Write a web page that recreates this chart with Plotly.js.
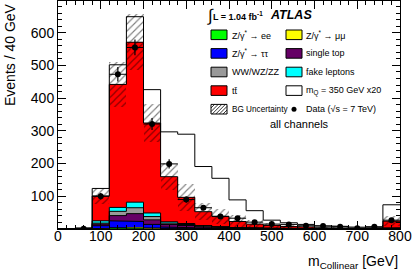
<!DOCTYPE html>
<html><head><meta charset="utf-8">
<script src="https://cdn.plot.ly/plotly-3.0.1.min.js"></script>
<style>html,body{margin:0;padding:0;background:#fff}#plot{width:412px;height:273px}</style>
</head><body><div id="plot"></div>
<script>
// ---- data ----
const binEdges = [0,40,80,120,160,200,240,280,320,360,400,440,480,520,560,600,640,680,720,760,800];
const zee       = [0,0.2,1,2,2,1,0.5,0.3,0.2,0.1,0.1,0,0,0,0,0,0,0,0,0];
const zmumu     = [0,0.2,1,2,3,2,0.5,0.5,0.3,0.2,0.1,0.1,0,0,0,0,0,0,0,0];
const ztautau   = [0,0.6,8,21,18,11,5,3,2,1,0.5,0.4,0.3,0.2,0.1,0.1,0.1,0,0,0.2];
const singletop = [0,0.3,5,16,24,14,8,7,4,3,2,1.5,1,0.8,0.6,0.4,0.3,0.3,0.2,1.5];
const diboson   = [0,0.2,3,13,18,10,4,3,2,1.5,1,0.7,0.5,0.4,0.3,0.2,0.2,0.1,0.1,0.8];
const fakes     = [0,0.3,7,12,17,11,4,3,2,1.5,1,0.7,0.5,0.4,0.3,0.2,0.2,0.1,0.1,1];
const ttbar     = [0,0.5,76,376,489,275,138,80,42.5,31.7,18.3,11.6,8.7,6.2,4.7,3.1,2.2,2,1.6,20.5];
const signalX20 = [0,1,23,60,78,102,137,193,138,116,66,41,16,11,8,6,5,3.5,3,50];
const bgUnc     = [0,1,24,70,86,58,41,42,27,23,20,13,8,6,4,3,2,2,2,16];
const dataVals  = [null,1,100,473,555,321,199,90,65,38,33,21,15,14,10,9,7,2,7,27];
const dataErr   = [0,1,10,22,24,18,14,9.5,8,6.2,5.7,4.6,3.9,3.7,3.2,3,2.6,1.4,2.6,5.2];
const xTickVals = [0,100,200,300,400,500,600,700,800];
const yTickVals = [100,200,300,400,500,600];

// ---- derived ----
const nb = binEdges.length-1;
const centers = [], widths = [];
for (let i=0;i<nb;i++){ centers.push((binEdges[i]+binEdges[i+1])/2); widths.push(binEdges[i+1]-binEdges[i]); }
const comps = [
  {v:zee, c:'#00ff00'},
  {v:zmumu, c:'#ffff00'},
  {v:ztautau, c:'#0000ff'},
  {v:singletop, c:'#660066'},
  {v:diboson, c:'#999999'},
  {v:fakes, c:'#00ffff'},
  {v:ttbar, c:'#ff0000'},
  {v:signalX20, c:'#ffffff'}
];
const traces = [];
const levels = [];
let cum = new Array(nb).fill(0);
comps.forEach(cp=>{
  const base = cum.slice();
  cum = cum.map((b,i)=>b+cp.v[i]);
  levels.push(cum.slice());
  traces.push({type:'bar', x:centers, y:cp.v, base:base, width:widths,
    marker:{color:cp.c, line:{width:0}}, hoverinfo:'skip', showlegend:false});
});
const bgTot = levels[6];
traces.push({type:'bar', x:centers, y:bgUnc.map(s=>2*s), base:bgTot.map((t,i)=>t-bgUnc[i]), width:widths,
  marker:{color:'rgba(0,0,0,0)', line:{width:0},
    pattern:{shape:'/', size:5, solidity:0.22, fgcolor:'#000', bgcolor:'rgba(0,0,0,0)', fillmode:'overlay'}},
  hoverinfo:'skip', showlegend:false});
levels.forEach(lv=>{
  const xs=[], ys=[];
  for (let i=0;i<nb;i++){ xs.push(binEdges[i], binEdges[i+1]); ys.push(lv[i], lv[i]); }
  traces.push({type:'scatter', mode:'lines', x:xs, y:ys, line:{color:'#000', width:1}, hoverinfo:'skip', showlegend:false});
});
traces.push({type:'scatter', mode:'markers', x:centers, y:dataVals,
  marker:{color:'#000', size:6},
  error_y:{type:'data', array:dataErr, width:0, thickness:1.2, color:'#000'},
  error_x:{type:'data', array:widths.map(w=>w/2), width:0, thickness:1, color:'#000'},
  showlegend:false, hoverinfo:'skip'});

// ---- layout helpers (pixel -> paper) ----
const W=412,H=273,ML=58,MR=12,MT=1,MB=44;
const PW=W-ML-MR, PH=H-MT-MB;
const px = x=>(x-ML)/PW, py = y=>(H-MB-y)/PH;
const FONT='Liberation Sans, Arial, Helvetica, sans-serif';
const ann=[], shp=[];
function txt(t,x,y,size,opts){ ann.push(Object.assign({text:t, xref:'paper', yref:'paper', x:px(x), y:py(y), xanchor:'left', yanchor:'middle', showarrow:false, font:{family:FONT,size:size,color:'#000'}},opts||{})); }
function box(x0,x1,y0,y1,fill){ shp.push({type:'rect', xref:'paper', yref:'paper', x0:px(x0), x1:px(x1), y0:py(y1), y1:py(y0), fillcolor:fill, line:{color:'#000', width:1}}); }

// axis titles
txt('Events / 40 GeV', 10, 55, 14, {xanchor:'center', textangle:-90});
txt('m<sub>Collinear</sub> [GeV]', 400, 262, 14, {xanchor:'right'});
// header
txt('∫', 205, 16, 17, {});
txt('<b>L = 1.04 fb<sup>-1</sup></b>', 211, 16, 9, {});
txt('<b><i>ATLAS</i></b>', 268, 15, 12.5, {});
// legend
const legendRows = [
  [['#00ff00','Z/γ<sup>*</sup> → ee'], ['#ffff00','Z/γ<sup>*</sup> → μμ']],
  [['#0000ff','Z/γ<sup>*</sup> → ττ'], ['#660066','single top']],
  [['#999999','WW/WZ/ZZ'], ['#00ffff','fake leptons']],
  [['#ff0000','tt̄'], ['#ffffff','m<sub>Q</sub> = 350 GeV x20']]
];
const rowY = i=>34.8+i*18.6, bh=4.8;
legendRows.forEach((row,i)=>{
  const yc=rowY(i);
  box(211,227,yc-bh,yc+bh,row[0][0]); txt(row[0][1],229.5,yc,9,{});
  box(286,302,yc-bh,yc+bh,row[1][0]); txt(row[1][1],304,yc,9,{});
});
// BG uncertainty hatched box
{
  const yc=rowY(4), x0=211, x1=227, y0=yc-bh, y1=yc+bh, w=x1-x0, h=y1-y0, s=3.6;
  let path='';
  for (let c=-h; c<w; c+=s){
    const u0=Math.max(0,c), u1=Math.min(w,h+c);
    if (u1<=u0) continue;
    const ax=x0+u0, ay=y1-(u0-c), bx=x0+u1, by=y1-(u1-c);
    path+=`M${px(ax)},${py(ay)}L${px(bx)},${py(by)}`;
  }
  shp.push({type:'path', xref:'paper', yref:'paper', path:path, line:{color:'#000', width:0.8}});
  box(x0,x1,y0,y1,'rgba(0,0,0,0)');
  txt('BG Uncertainty',229.5,yc,8.2,{});
  shp.push({type:'circle', xref:'paper', yref:'paper', x0:px(291.5), x1:px(296.5), y0:py(yc+2.5), y1:py(yc-2.5), fillcolor:'#000', line:{color:'#000',width:0}});
  txt('Data (√s = 7 TeV)',304,yc,9,{});
}
txt('all channels', 299, 124, 11, {xanchor:'center'});

const axBase = {showline:true, linecolor:'#000', linewidth:1, mirror:'allticks', ticks:'inside', tickwidth:1, tickcolor:'#000',
  showgrid:false, zeroline:false, fixedrange:true, tickfont:{family:FONT, size:14, color:'#000'}};
const layout = {
  width:W, height:H, margin:{l:ML, r:MR, t:MT, b:MB, pad:0},
  paper_bgcolor:'#fff', plot_bgcolor:'#fff', barmode:'overlay', bargap:0, showlegend:false,
  xaxis:Object.assign({}, axBase, {range:[0,800], tickmode:'array', tickvals:xTickVals, ticklen:8, ticklabelstandoff:-6,
    minor:{ticks:'inside', ticklen:4, dtick:20, tick0:0, tickcolor:'#000', showgrid:false}}),
  yaxis:Object.assign({}, axBase, {range:[0,697], tickmode:'array', tickvals:yTickVals, ticklen:8,
    minor:{ticks:'inside', ticklen:4, dtick:20, tick0:0, tickcolor:'#000', showgrid:false}}),
  annotations:ann, shapes:shp
};
Plotly.newPlot('plot', traces, layout, {staticPlot:true, displayModeBar:false});
</script></body></html>
